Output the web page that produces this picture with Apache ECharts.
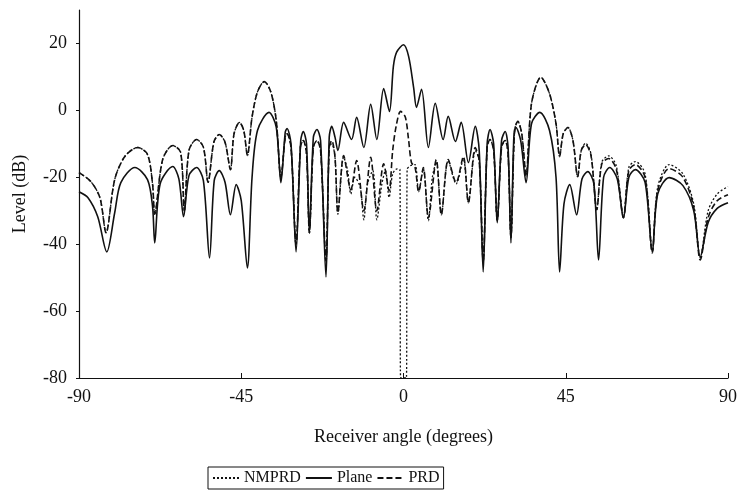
<!DOCTYPE html>
<html>
<head>
<meta charset="utf-8">
<script src="https://cdn.jsdelivr.net/npm/echarts@6/dist/echarts.min.js"></script>
<style>html,body{margin:0;padding:0;background:#fff}#c{width:740px;height:492px}</style>
</head>
<body>
<div id="c"></div>
<script>
// Receiver angle (degrees) and level (dB)
var xTicks = [-90, -45, 0, 45, 90];
var yTicks = [-80, -60, -40, -20, 0, 20];

var planeAngles = [-90,-87.5,-84.8,-82.3,-80.1,-78.4,-74.5,-71,-69.6,-69,-67.5,-64,-62.3,-61,-59.5,-57.4,-55.5,-53.8,-52.5,-51.1,-49.5,-48,-46.4,-45,-43.3,-42,-40.5,-37.3,-35.3,-34,-32.8,-32.3,-31.2,-29.8,-28.5,-27.8,-26.9,-26.1,-25,-24,-23,-21.5,-20.6,-19.9,-19,-18.2,-16.6,-14.4,-13,-11,-9.1,-7.4,-5.5,-3.9,-2.8,-1.9,0,1.4,2.8,3.6,5,6.9,8.8,11,12.4,14.4,16,18,19.9,21,22.1,23.2,24,25,26,27.2,28.2,29,29.8,30.6,31.2,32.5,34,35.5,37.8,40.5,42.3,43.3,44.5,46.1,48,49.5,51.1,52.8,54.1,55.5,57.2,59.3,61,62.5,64.3,67,69,70.5,73.7,77.5,80.5,82.3,84.5,87,90];
var planeLevels = [-24.3,-26.1,-31.8,-42.3,-30.6,-21.6,-17.1,-20.7,-28.8,-39.6,-22,-16.8,-20.5,-31.8,-19.5,-17.1,-21,-44.1,-21,-18,-21.5,-31.2,-22.2,-27,-47.1,-20,-6,-0.6,-5,-21.6,-6.5,-5.4,-10,-42.3,-9,-6.3,-10,-36.6,-8,-5.7,-9,-49.8,-8,-4.8,-8,-12,-3.6,-8.7,-2.1,-11.1,1.8,-8.7,6.5,-0.3,13.2,17.4,19.6,16.2,6.9,0.9,6.3,-11.1,2.1,-8.7,-1.8,-9.3,-3.6,-15.6,-4.8,-12,-48.3,-10,-5.7,-10,-33.6,-9,-6.3,-11,-39.6,-8,-5.1,-9,-21.6,-4,-0.6,-6,-20,-48.3,-28,-22.2,-31.2,-20.5,-18.3,-22,-44.7,-20,-17.1,-20.5,-32.1,-20,-17.7,-21.5,-42.3,-25,-20.1,-22.5,-30,-43.8,-33.5,-29.3,-27.6];

var prdAngles = [-90,-86.7,-84.2,-82.5,-80.1,-77.3,-73.7,-71,-69.6,-69,-66.8,-64,-61.8,-60.8,-59.5,-57.4,-55.5,-54.2,-52.6,-51.1,-49.5,-48,-47,-45.5,-44.3,-43.3,-42,-40.5,-38.6,-36.8,-35.3,-34,-32.8,-32.3,-31.2,-29.8,-28.6,-27.8,-26.9,-26.1,-25,-24,-23,-21.5,-20.6,-19.9,-19,-18.2,-16.6,-14.6,-13,-11,-9.1,-7.4,-5.5,-4,-3,-2,-0.8,0.5,1.4,2.2,3.2,4.2,5.5,6.9,9.1,10.5,12.4,14.6,16.6,18,19.9,21,22.1,23.2,24,25,26,27.2,28.2,29,29.8,30.8,31.7,32.8,34,35.5,38.1,40.5,42.3,43.3,44.3,45.6,47,48.3,49.3,50.5,52,53.6,55,56.9,59,61,62.5,64.3,67,69,70.5,73.7,77.5,80.5,82.3,84.5,87,90];
var prdLevels = [-18.6,-21.3,-26.1,-36.6,-20.7,-13.8,-11.1,-13.2,-22,-31,-14.7,-10.5,-12.6,-30,-12,-8.7,-11,-21.5,-9.5,-7.2,-9.5,-17.7,-7,-3.6,-6,-13.5,-2,5.5,8.6,5.5,-3,-20,-8,-7,-11,-40,-11,-9,-13,-36.6,-11,-9,-12,-45,-11,-9,-14,-30.6,-13.5,-23.7,-15,-30,-14,-30,-16,-24,-12,-4.5,-0.3,-2,-8.7,-15.6,-17,-24.3,-17.1,-32.1,-14.7,-31.2,-14.7,-21.6,-13.8,-27.6,-11.1,-15,-45,-11,-8.7,-12,-33,-11,-9,-13,-38,-6,-3.3,-7,-19.5,2,9.9,5,-4,-13.8,-7,-5.1,-9,-19.8,-12,-10.2,-13.5,-29.7,-16,-14.4,-17.5,-32.1,-18,-16.2,-20,-42.6,-24,-17.4,-20,-29,-44.7,-32,-27,-25.2];

var nmprdAngles = [-90,-86.7,-84.2,-82.5,-80.1,-77.3,-73.7,-71,-69.6,-69,-66.8,-64,-61.8,-60.8,-59.5,-57.4,-55.5,-54.2,-52.6,-51.1,-49.5,-48,-47,-45.5,-44.3,-43.3,-42,-40.5,-38.6,-36.8,-35.3,-34,-32.8,-32.3,-31.2,-29.8,-28.6,-27.8,-26.9,-26.1,-25,-24,-23,-21.5,-20.6,-19.9,-19,-18.2,-16.6,-15.5,-14.6,-13.5,-12,-11,-10,-8.5,-7.4,-6,-5,-4,-3,-1.8,-1,-0.8,0.8,1,2,3.2,4.2,5.5,6.9,8,9.1,10.5,12.4,14.6,16.6,18,19.9,21,22.1,23.2,24,25,26,27.2,28.2,29,29.8,30.8,31.7,32.8,34,35.5,38.1,40.5,42.3,43.3,44.3,45.6,47,48.3,49.3,50.5,52,53.6,55,56.9,59,61,62.5,64.3,67,69,70.5,73.7,77.5,80.5,82.3,84.5,87,90];
var nmprdLevels = [-18.6,-21.3,-26.1,-36.6,-20.7,-13.8,-11.1,-13.2,-22,-31,-14.7,-10.5,-12.6,-30,-12,-8.7,-11,-21.5,-9.5,-7.2,-9.5,-17.7,-7,-3.6,-6,-13.5,-2,5.5,8.6,5.5,-3,-20,-8,-7,-11,-40,-11,-9,-13,-36.6,-11,-9,-12,-45,-11,-10,-14,-31,-14,-18,-25,-20,-23,-32.7,-22,-18,-32.7,-22,-18,-26,-19,-17.5,-17.7,-80,-80,-17.7,-16.5,-16.2,-24.3,-17.5,-33,-20,-15.5,-31.2,-15,-22,-14.5,-27.6,-12,-15,-45,-11,-8.7,-12,-33,-11,-9,-13,-38,-6,-3.3,-7,-19.5,2,9.9,5,-4,-13.8,-7,-5.1,-9,-19.8,-12,-9.8,-13,-29.7,-15.5,-13.6,-16.5,-32,-17,-15.3,-19,-42,-23,-16.2,-19,-28,-44,-30,-25,-22.8];

function pairs(a, b) { return a.map(function (x, i) { return [x, b[i]]; }); }

var FONT = 'Liberation Serif';
var INK = '#111';
var chart = echarts.init(document.getElementById('c'), null, { renderer: 'canvas' });
chart.setOption({
  backgroundColor: '#fff',
  animation: false,
  grid: { left: 79, right: 8, top: 10, bottom: 114, containLabel: false },
  legend: {
    left: 208, top: 467,
    borderColor: INK, borderWidth: 1, padding: [3, 4],
    itemWidth: 26, itemHeight: 10, itemGap: 4,
    itemStyle: { opacity: 0 },
    textStyle: { fontFamily: FONT, fontSize: 16, color: INK },
    data: ['NMPRD', 'Plane', 'PRD']
  },
  xAxis: {
    type: 'value', min: -90, max: 90, interval: 45,
    name: 'Receiver angle (degrees)', nameLocation: 'middle', nameGap: 50,
    nameTextStyle: { fontFamily: FONT, fontSize: 18, color: INK },
    axisLine: { onZero: false, lineStyle: { color: INK, width: 1.2 } },
    axisTick: { inside: true, length: 5, lineStyle: { color: INK } },
    axisLabel: { fontFamily: FONT, fontSize: 18, color: INK, margin: 10,
      formatter: function (v) { return xTicks.indexOf(v) >= 0 ? String(v) : ''; } },
    splitLine: { show: false }
  },
  yAxis: {
    type: 'value', min: -80, max: 30, interval: 20,
    name: 'Level (dB)', nameLocation: 'middle', nameGap: 50,
    nameTextStyle: { fontFamily: FONT, fontSize: 18, color: INK },
    axisLine: { onZero: false, lineStyle: { color: INK, width: 1.2 } },
    axisTick: { length: 3, lineStyle: { color: INK } },
    axisLabel: { fontFamily: FONT, fontSize: 18, color: INK, margin: 12, showMaxLabel: false,
      formatter: function (v) { return yTicks.indexOf(v) >= 0 ? String(v) : ''; } },
    splitLine: { show: false }
  },
  series: [
    { name: 'NMPRD', type: 'line', data: pairs(nmprdAngles, nmprdLevels), showSymbol: false, symbol: 'none',
      smooth: 0.3, lineStyle: { color: INK, width: 1.3, type: [2, 2] }, itemStyle: { color: INK }, z: 2 },
    { name: 'Plane', type: 'line', data: pairs(planeAngles, planeLevels), showSymbol: false, symbol: 'none',
      smooth: 0.3, lineStyle: { color: INK, width: 1.6, type: 'solid' }, itemStyle: { color: INK }, z: 4 },
    { name: 'PRD', type: 'line', data: pairs(prdAngles, prdLevels), showSymbol: false, symbol: 'none',
      smooth: 0.3, lineStyle: { color: INK, width: 1.6, type: [6, 3] }, itemStyle: { color: INK }, z: 3 }
  ]
});
</script>
</body>
</html>
